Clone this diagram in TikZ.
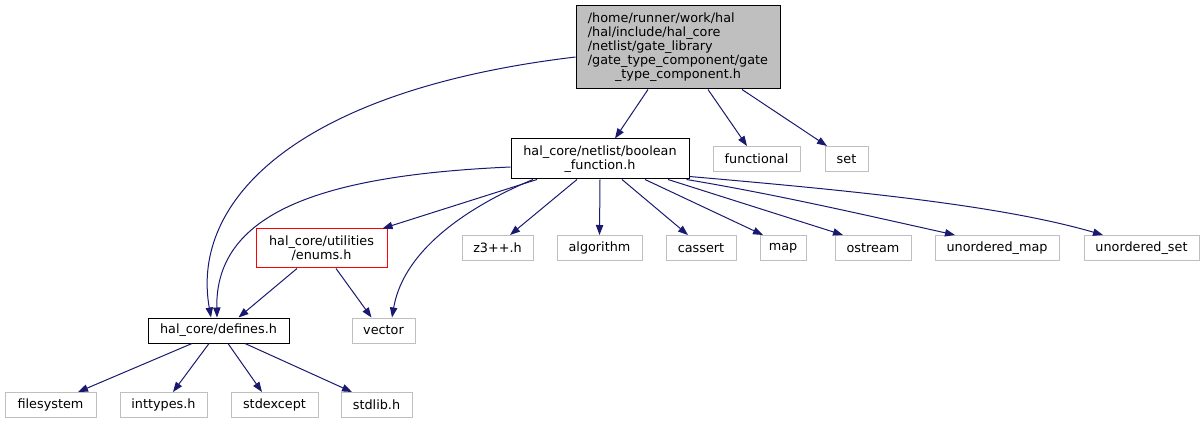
\documentclass[tikz,border=0pt]{standalone}
\usepackage{fontspec}
\setmainfont{DejaVu Sans}
\usetikzlibrary{arrows.meta,calc}
\definecolor{edgeblue}{HTML}{191970}
\definecolor{boxgray}{HTML}{BFBFBF}
\begin{document}
\begin{tikzpicture}[x=0.75pt,y=-0.75pt,
  every node/.style={font=\fontsize{9.6}{10.6}\selectfont, inner sep=0pt, align=center},
  box/.style={draw=black, line width=0.75pt, minimum height=18.75pt},
  sysbox/.style={draw=boxgray, line width=0.75pt, minimum height=18.75pt},
  redbox/.style={draw=red, line width=0.75pt},
  dep/.style={draw=edgeblue, line width=0.75pt, -{Triangle[length=7.5pt,width=5.5pt]}, fill=none}]
\useasboundingbox (0,0) rectangle (1204,424);
% nodes
\node[box, fill=boxgray, minimum width=153pt, minimum height=62.25pt] (top) at (678,47.5)
  {\begin{tabular}{@{}l@{}}/home/runner/work/hal\\/hal/include/hal\_core\\/netlist/gate\_library\\/gate\_type\_component/gate\\\multicolumn{1}{@{}c@{}}{\_type\_component.h}\end{tabular}};
\node[box, minimum width=133.5pt, minimum height=30pt] (bool) at (600,159)
  {hal\_core/netlist/boolean\\\_function.h};
\node[sysbox, minimum width=65.25pt] (functional) at (756.5,159) {functional};
\node[sysbox, minimum width=32.25pt] (set) at (846.5,159) {set};
\node[redbox, minimum width=98.25pt, minimum height=29.25pt] (enums) at (321.5,248.5)
  {hal\_core/utilities\\/enums.h};
\node[sysbox, minimum width=53.25pt] (z3) at (497.5,248) {z3++.h};
\node[sysbox, minimum width=63.75pt] (algorithm) at (599.5,248) {algorithm};
\node[sysbox, minimum width=52.5pt] (cassert) at (701,248) {cassert};
\node[sysbox, minimum width=34.5pt] (map) at (783,248) {map};
\node[sysbox, minimum width=57pt] (ostream) at (873,248) {ostream};
\node[sysbox, minimum width=93pt] (umap) at (997,248) {unordered\_map};
\node[sysbox, minimum width=86.25pt] (uset) at (1141.5,248) {unordered\_set};
\node[box, minimum width=105.75pt] (defines) at (218.5,330.5) {hal\_core/defines.h};
\node[sysbox, minimum width=47.25pt] (vector) at (383.5,330.5) {vector};
\node[sysbox, minimum width=68.25pt] (filesystem) at (50.5,405) {filesystem};
\node[sysbox, minimum width=65.25pt] (inttypes) at (163.5,405) {inttypes.h};
\node[sysbox, minimum width=65.25pt] (stdexcept) at (274.5,405) {stdexcept};
\node[sysbox, minimum width=53.25pt] (stdlib) at (376.5,405) {stdlib.h};
% edges from top
\draw[dep] ($(top.west)+(0,9.5)$) .. controls +(-277,33) and +(-21,-118) .. ($(defines.north)+(-7.5,0)$);
\draw[dep] ($(top.south)+(-30,0)$) -- ($(bool.north)+(15,0)$);
\draw[dep] ($(top.south)+(30,0)$) -- ($(functional.north)+(-9.5,0)$);
\draw[dep] ($(top.south)+(64,0)$) -- ($(set.north)+(-19.5,0)$);
% edges from boolean_function
\draw[dep] ($(bool.west)+(0,8)$) .. controls +(-181,8) and +(-2,-108) .. ($(defines.north)+(-1.5,0)$);
\draw[dep] ($(bool.south)+(-63,0)$) -- ($(enums.north)+(61,0)$);
\draw[dep] ($(bool.south)+(-67,0)$) .. controls +(-60,25) and +(12,-70) .. ($(vector.north)+(8.5,0)$);
\draw[dep] ($(bool.south)+(-23,0)$) -- ($(z3.north)+(12.5,0)$);
\draw[dep] (bool.south) -- (algorithm.north);
\draw[dep] ($(bool.south)+(22,0)$) -- ($(cassert.north)+(-13,0)$);
\draw[dep] ($(bool.south)+(45,0)$) -- ($(map.north)+(-20,0)$);
\draw[dep] ($(bool.south)+(68,0)$) -- ($(ostream.north)+(-30,0)$);
\draw[dep] ($(bool.south east)+(-3,0)$) .. controls +(90,15) and +(-90,-20) .. ($(umap.north)+(-42,0)$);
\draw[dep] ($(bool.south east)+(0,-3)$) .. controls +(161,14) and +(-103,-30) .. ($(uset.north)+(-38.5,0)$);
% edges from enums
\draw[dep] ($(enums.south)+(-24.5,0)$) -- ($(defines.north)+(20,0)$);
\draw[dep] ($(enums.south)+(14.5,0)$) -- ($(vector.north)+(-12,0)$);
% edges from defines
\draw[dep] ($(defines.south)+(-26.5,0)$) -- ($(filesystem.north)+(27.5,0)$);
\draw[dep] ($(defines.south)+(-9.5,0)$) -- ($(inttypes.north)+(9.5,0)$);
\draw[dep] ($(defines.south)+(9.5,0)$) -- ($(stdexcept.north)+(-12.5,0)$);
\draw[dep] ($(defines.south)+(26.5,0)$) -- ($(stdlib.north)+(-24.5,0)$);
\end{tikzpicture}
\end{document}
